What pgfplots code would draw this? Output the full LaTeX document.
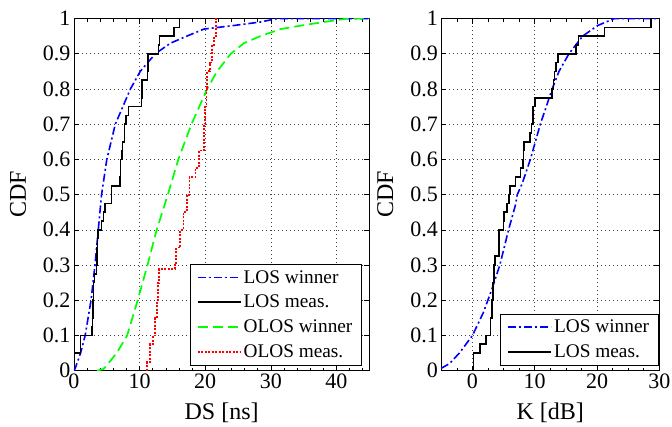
\documentclass[border=0pt]{standalone}
\usepackage{fontspec}
\setmainfont{Liberation Serif}
\usepackage{pgfplots}
\pgfplotsset{compat=1.18}
\begin{document}
\begin{tikzpicture}
\useasboundingbox (-74pt,-55.3pt) rectangle (598pt,370.7pt);
\pgfplotsset{
  cdf/.style={scale only axis,height=352.2pt,ymin=0,ymax=1,
    ytick={0,0.1,0.2,0.3,0.4,0.5,0.6,0.7,0.8,0.9,1},
    yticklabels={0,0.1,0.2,0.3,0.4,0.5,0.6,0.7,0.8,0.9,1},
    ylabel={CDF},grid=major,
    grid style={black!75,line width=0.6pt,dash pattern=on 1pt off 3pt},
    axis line style={line width=0.8pt},
    tick align=inside,major tick length=5pt,minor tick length=3pt,
    tick style={black,line width=0.6pt},
    /pgf/number format/assume math mode=true,
    tick label style={font=\fontsize{22}{24}\selectfont},
    label style={font=\fontsize{24}{26}\selectfont},
    ylabel style={at={(axis description cs:0,0.5)},anchor=center,yshift=56pt},
    xlabel style={at={(axis description cs:0.5,0)},anchor=center,yshift=-42pt},
    legend cell align=left,
    legend image code/.code={\draw[##1] (0pt,0pt) -- (43pt,0pt);},
    legend style={draw=black,font=\fontsize{19.3}{22}\selectfont,
      anchor=south east,inner xsep=7pt,inner ysep=4pt,row sep=6.5pt},
  },
  loswin/.style={blue,line width=1.6pt,dash pattern=on 8pt off 3pt on 2pt off 3pt},
  losmeas/.style={black,line width=1.6pt,solid},
  oloswin/.style={green,line width=1.7pt,dash pattern=on 10pt off 5pt},
  olosmeas/.style={red,line width=1.8pt,dash pattern=on 2pt off 1.5pt},
}
\begin{axis}[cdf,width=295.3pt,xmin=0,xmax=45,xtick={0,10,20,30,40},
  minor xtick={2,4,6,8,12,14,16,18,22,24,26,28,32,34,36,38,42,44},
  xlabel={DS [ns]},legend style={at={(0.974,0.016)}}]
\addplot[loswin] coordinates {(0,0) (0.15,0.005) (1.0,0.05) (1.7,0.1) (2.6,0.2) (3.2,0.3) (3.7,0.4) (4.2,0.5) (5.0,0.6) (6.3,0.7) (8.6,0.8) (10.1,0.85) (12.4,0.9) (14.7,0.93) (17.2,0.95) (19.8,0.97) (24.3,0.98) (28.4,0.99) (31,1) (45,1)};
\addlegendentry{LOS winner}
\addplot[losmeas] coordinates {(0,0.05) (1.0,0.05) (1.0,0.1) (2.7,0.1) (2.7,0.125) (2.8,0.125) (2.8,0.15) (2.9,0.15) (2.9,0.2) (3.0,0.2) (3.0,0.25) (3.1,0.25) (3.1,0.275) (3.4,0.275) (3.4,0.3) (3.5,0.3) (3.5,0.35) (3.6,0.35) (3.6,0.375) (3.7,0.375) (3.7,0.4) (4.2,0.4) (4.2,0.425) (4.5,0.425) (4.5,0.45) (4.7,0.45) (4.7,0.475) (5.7,0.475) (5.7,0.525) (7.0,0.525) (7.0,0.55) (7.1,0.55) (7.1,0.6) (7.3,0.6) (7.3,0.625) (7.4,0.625) (7.4,0.65) (7.7,0.65) (7.7,0.7) (7.9,0.7) (7.9,0.725) (8.3,0.725) (8.3,0.75) (10.3,0.75) (10.3,0.775) (10.4,0.775) (10.4,0.825) (11.2,0.825) (11.2,0.85) (11.3,0.85) (11.3,0.9) (12.9,0.9) (12.9,0.925) (13.0,0.925) (13.0,0.95) (15.2,0.95) (15.2,0.975) (16.1,0.975) (16.1,1)};
\addlegendentry{LOS meas.}
\addplot[oloswin] coordinates {(3.5,0) (4.5,0.005) (5.2,0.02) (6.5,0.05) (8.1,0.1) (9.7,0.2) (11.2,0.3) (12.6,0.4) (14.3,0.5) (15.9,0.6) (17.9,0.7) (20.3,0.8) (21.8,0.85) (23.9,0.9) (25.9,0.93) (28.4,0.95) (31.5,0.97) (34.6,0.98) (38.1,0.99) (41.7,1) (45,1)};
\addlegendentry{OLOS winner}
\addplot[olosmeas] coordinates {(11.1,0) (11.1,0.025) (11.6,0.025) (11.6,0.075) (12.0,0.075) (12.0,0.1) (12.4,0.1) (12.4,0.15) (12.6,0.15) (12.6,0.2) (12.8,0.2) (12.8,0.25) (12.9,0.25) (12.9,0.288) (15.4,0.288) (15.4,0.3) (15.6,0.3) (15.6,0.35) (16.2,0.35) (16.2,0.4) (16.7,0.4) (16.7,0.45) (17.2,0.45) (17.2,0.5) (17.6,0.5) (17.6,0.55) (18.5,0.55) (18.5,0.575) (19.0,0.575) (19.0,0.625) (19.8,0.625) (19.8,0.7) (20.0,0.7) (20.0,0.75) (20.2,0.75) (20.2,0.8) (20.3,0.8) (20.3,0.85) (20.7,0.85) (20.7,0.875) (21.0,0.875) (21.0,0.925) (21.3,0.925) (21.3,0.95) (21.6,0.95) (21.6,1.0)};
\addlegendentry{OLOS meas.}
\end{axis}
\begin{axis}[cdf,at={(367.3pt,0pt)},anchor=south west,width=218pt,xmin=-5,xmax=30,
  xtick={0,10,20,30},minor xtick={-5,-2.5,2.5,5,7.5,12.5,15,17.5,22.5,25,27.5},
  xlabel={K [dB]},legend style={at={(0.995,0.016)}}]
\addplot[loswin] coordinates {(-5,0.007) (-3.7,0.02) (-2.1,0.05) (0,0.1) (1.7,0.163) (3.1,0.23) (4.4,0.3) (5.8,0.4) (6.9,0.47) (7.2,0.5) (8.0,0.532) (9.3,0.6) (10.9,0.7) (12.8,0.8) (13.9,0.85) (15.5,0.9) (17.7,0.95) (20.1,0.98) (22.8,1) (30,1)};
\addlegendentry{LOS winner}
\addplot[losmeas] coordinates {(0,0) (0.2,0) (0.2,0.05) (1.2,0.05) (1.2,0.075) (2.2,0.075) (2.2,0.1) (2.9,0.1) (2.9,0.15) (3.1,0.15) (3.1,0.2) (3.3,0.2) (3.3,0.25) (3.5,0.25) (3.5,0.3) (3.6,0.3) (3.6,0.325) (4.3,0.325) (4.3,0.4) (5.0,0.4) (5.0,0.425) (5.1,0.425) (5.1,0.45) (5.5,0.45) (5.5,0.475) (5.9,0.475) (5.9,0.5) (6.05,0.5) (6.05,0.525) (6.9,0.525) (6.9,0.55) (7.7,0.55) (7.7,0.575) (8.1,0.575) (8.1,0.6) (8.2,0.6) (8.2,0.625) (8.3,0.625) (8.3,0.65) (9.2,0.65) (9.2,0.675) (9.5,0.675) (9.5,0.7) (9.7,0.7) (9.7,0.75) (10.0,0.75) (10.0,0.775) (12.8,0.775) (12.8,0.8) (13.0,0.8) (13.0,0.825) (13.2,0.825) (13.2,0.85) (13.4,0.85) (13.4,0.875) (13.7,0.875) (13.7,0.9) (16.6,0.9) (16.6,0.925) (17.0,0.925) (17.0,0.95) (21.2,0.95) (21.2,0.975) (28.7,0.975) (28.7,1)};
\addlegendentry{LOS meas.}
\end{axis}
\end{tikzpicture}
\end{document}
